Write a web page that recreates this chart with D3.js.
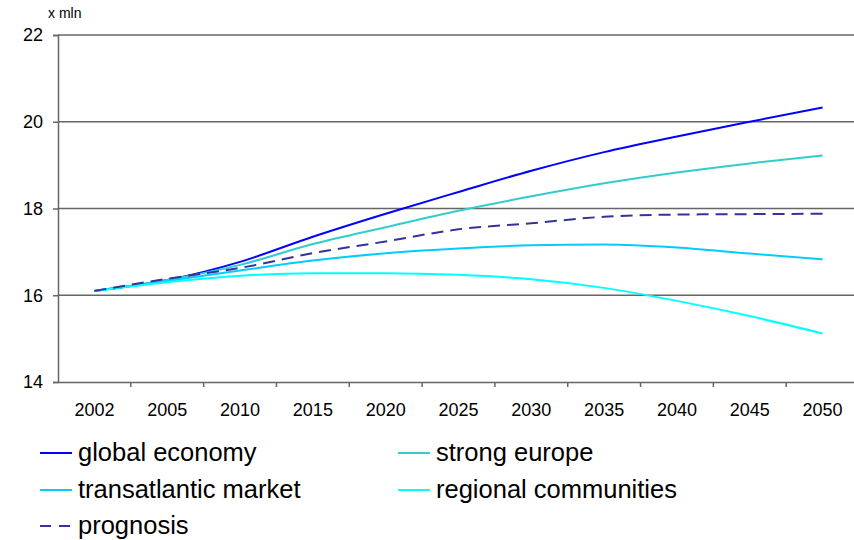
<!DOCTYPE html>
<html>
<head>
<meta charset="utf-8">
<script src="https://cdn.jsdelivr.net/npm/d3@7"></script>
<style>
    body { margin: 0; background: #fff; }
    svg { display: block; font-family: Arial, "Liberation Sans", sans-serif; }
</style>
</head>
<body>
<svg id="chart"></svg>
<script>
// данные
const years = ["2002", "2005", "2010", "2015", "2020", "2025", "2030", "2035", "2040", "2045", "2050"];
const globalEconomy = [16.1, 16.35, 16.77, 17.35, 17.88, 18.38, 18.87, 19.3, 19.66, 20.0, 20.33];
const strongEurope = [16.1, 16.35, 16.7, 17.18, 17.57, 17.95, 18.28, 18.58, 18.83, 19.04, 19.22];
const transatlantic = [16.1, 16.33, 16.57, 16.8, 16.97, 17.08, 17.15, 17.17, 17.1, 16.96, 16.83];
const regional = [16.1, 16.3, 16.45, 16.51, 16.51, 16.47, 16.37, 16.17, 15.87, 15.52, 15.12];
const prognosis = [16.1, 16.38, 16.63, 16.97, 17.24, 17.52, 17.66, 17.81, 17.86, 17.87, 17.88];
const yTicks = [14, 16, 18, 20, 22];

const series = [
    { name: "global economy", values: globalEconomy, color: "#0000FF", dash: null },
    { name: "strong europe", values: strongEurope, color: "#33CCCC", dash: null },
    { name: "transatlantic market", values: transatlantic, color: "#00CCFF", dash: null },
    { name: "regional communities", values: regional, color: "#00FFFF", dash: null },
    { name: "prognosis", values: prognosis, color: "#333399", dash: "12,7" }
];

const width = 854;
const height = 540;
const plotLeft = 58;
const plotRight = 859;
const plotTop = 35;
const plotBottom = 382;

let svg = d3.select("#chart")
    .attr("width", width)
    .attr("height", height);

let scaleX = d3.scaleBand()
    .domain(years)
    .range([plotLeft, plotRight]);

let scaleY = d3.scaleLinear()
    .domain([14, 22])
    .range([plotBottom, plotTop]);

// сетка
svg.append("g")
    .selectAll("line")
    .data(yTicks.slice(1))
    .enter()
    .append("line")
    .attr("x1", plotLeft)
    .attr("x2", plotRight)
    .attr("y1", d => scaleY(d))
    .attr("y2", d => scaleY(d))
    .attr("stroke", "#666")
    .attr("stroke-width", 1.5);

// ось Y
let axisY = svg.append("g")
    .attr("transform", `translate(${plotLeft}, 0)`)
    .call(d3.axisLeft(scaleY).tickValues(yTicks).tickSize(5).tickPadding(10));
axisY.select(".domain").attr("stroke", "#666").attr("stroke-width", 1.5);
axisY.selectAll(".tick line").attr("stroke", "#666").attr("stroke-width", 1.5);
axisY.selectAll("text").style("font-size", "18px").attr("fill", "#000");

// ось X, подписи по центру, засечки между категориями
let axisX = svg.append("g")
    .attr("transform", `translate(0, ${plotBottom})`)
    .call(d3.axisBottom(scaleX).tickSize(0).tickPadding(21));
axisX.select(".domain").attr("stroke", "#666").attr("stroke-width", 1.5);
axisX.selectAll("text").style("font-size", "18px").attr("fill", "#000");

svg.append("g")
    .selectAll("line")
    .data(years.slice(1))
    .enter()
    .append("line")
    .attr("x1", d => scaleX(d))
    .attr("x2", d => scaleX(d))
    .attr("y1", plotBottom)
    .attr("y2", plotBottom + 5)
    .attr("stroke", "#666")
    .attr("stroke-width", 1.5);

svg.append("text")
    .attr("x", 48)
    .attr("y", 18)
    .style("font-size", "14px")
    .text("x mln");

// линии
let line = d3.line()
    .x((d, i) => scaleX(years[i]) + scaleX.bandwidth() / 2)
    .y(d => scaleY(d))
    .curve(d3.curveMonotoneX);

series.forEach(s => {
    svg.append("path")
        .datum(s.values)
        .attr("d", line)
        .attr("fill", "none")
        .attr("stroke", s.color)
        .attr("stroke-width", 2)
        .attr("stroke-dasharray", s.dash);
});

// легенда
const legendPos = [[40, 453], [398, 453], [40, 490], [398, 490], [40, 526]];

series.forEach((s, i) => {
    let [lx, ly] = legendPos[i];
    let g = svg.append("g").attr("transform", `translate(${lx}, ${ly})`);
    g.append("line")
        .attr("x1", 0)
        .attr("x2", 32)
        .attr("y1", 0)
        .attr("y2", 0)
        .attr("stroke", s.color)
        .attr("stroke-width", 2)
        .attr("stroke-dasharray", s.dash ? "11,8" : null);
    g.append("text")
        .attr("x", 38)
        .attr("y", 8)
        .style("font-size", "25.5px")
        .text(s.name);
});
</script>
</body>
</html>
